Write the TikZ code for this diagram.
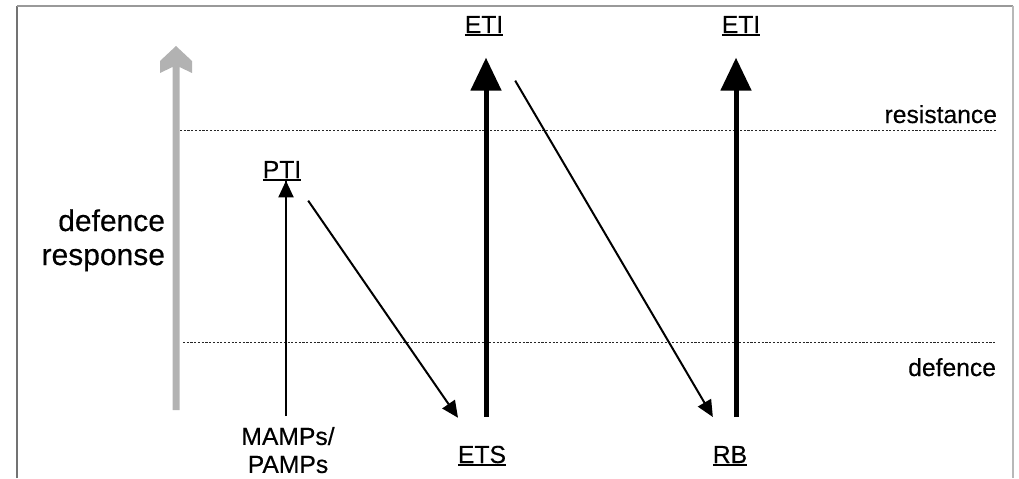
\documentclass[tikz,border=0pt]{standalone}
\usepackage{fontspec}
\setmainfont{Liberation Sans}[FakeBold=0.35]
\usetikzlibrary{arrows.meta}
\newcommand\ulx[1]{\vtop{\hbox{#1}\kern0.9pt\hrule height 1.1pt}}
\begin{document}
\begin{tikzpicture}[x=0.75pt,y=-0.75pt,
  lbl/.style={inner sep=0pt,outer sep=0pt,anchor=base,font=\fontsize{18.5pt}{21pt}\selectfont},
  biglbl/.style={inner sep=0pt,outer sep=0pt,anchor=base east,font=\fontsize{22.5pt}{25pt}\selectfont},
  thinarrow/.style={line width=1.5pt,-{Triangle[length=12.5pt,width=11.25pt]}},
  bigarrow/.style={line width=3.75pt,-{Triangle[length=24.75pt,width=22.5pt]}},
  level/.style={line width=0.75pt,dash pattern=on 1.6pt off 1.2pt,black!85},
  frameline/.style={line width=1.2pt}
]
\useasboundingbox (0,0) rectangle (1019,478);
% frame
\draw[frameline,black!55] (17,478) -- (17,6);
\draw[frameline,black!40] (17,6) -- (1013,6);
\draw[frameline,black!28,line width=1.5pt] (1013,6) -- (1013,478);
% gray defence-response arrow
\fill[black!30] (172.5,410) -- (172.5,67) -- (160,73) -- (160,61) -- (176,46)
  -- (192,61) -- (192,73) -- (179.5,67) -- (179.5,410) -- cycle;
% level lines
\draw[level] (180,130) -- (997,130);
\draw[level] (183,342.5) -- (995,342.5);
% texts
\node[biglbl] (dr1) at (165,231) {defence};
\node[biglbl] (dr2) at (165,265) {response};
\node[lbl,anchor=base east] (res) at (997,123) {resistance};
\node[lbl,anchor=base east] (def) at (996,376) {defence};
\node[lbl] (pti) at (282,178) {\ulx{PTI}};
\node[lbl] (eti1) at (484,33) {\ulx{ETI}};
\node[lbl] (eti2) at (741,33) {\ulx{ETI}};
\node[lbl] (ets) at (482,463) {\ulx{ETS}};
\node[lbl] (rb) at (730,463) {\ulx{RB}};
\node[lbl,anchor=north,align=center] (mamps) at (288,427) {MAMPs/\\PAMPs};
% connectors
\path ([xshift=-1.5pt]mamps.north) ++(0,-11) coordinate (m0);
\draw[thinarrow] (m0) -- (m0 |- pti.south) ++(0,0);
\draw[thinarrow] ([shift={(7,20)}]pti.south east) -- ([shift={(0,-28)}]ets.north west);
\draw[bigarrow] ([shift={(4,-29)}]ets.north) -- ([shift={(2,22)}]eti1.south);
\draw[thinarrow] ([shift={(12,45)}]eti1.south east) -- ([shift={(0,-29)}]rb.north west);
\draw[bigarrow] ([shift={(6,-29)}]rb.north) -- ([shift={(-5,22)}]eti2.south);
\end{tikzpicture}
\end{document}
